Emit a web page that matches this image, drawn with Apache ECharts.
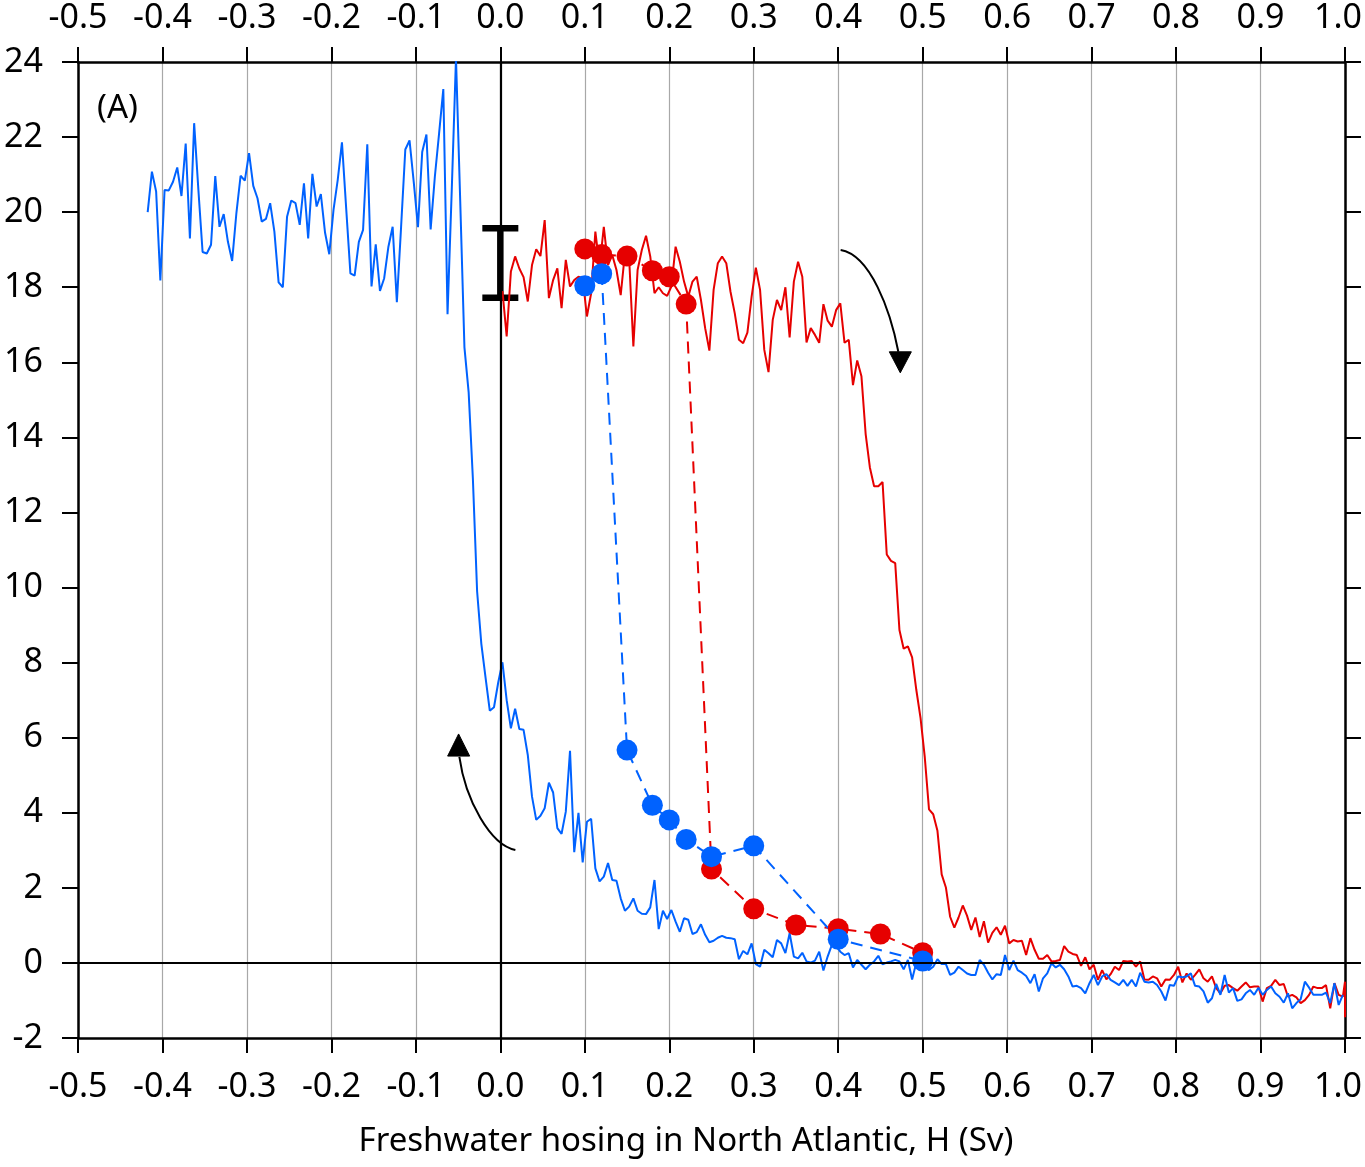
<!DOCTYPE html>
<html>
<head>
<meta charset="utf-8">
<script src="https://cdn.jsdelivr.net/npm/echarts@6/dist/echarts.min.js"></script>
<style>html,body{margin:0;padding:0;background:#fff}#c{width:1365px;height:1167px}</style>
</head>
<body>
<div id="c"></div>
<script>
// ---- data ----
const xTicks = {min: -0.5, max: 1.0, interval: 0.1};
const yTicks = {min: -2, max: 24, interval: 2};

// blue solid: hosing decreasing (from off state)
const blueLine = [
[-0.4175,20.0],[-0.4125,21.08],[-0.4075,20.55],[-0.4025,18.18],[-0.3975,20.59],[-0.3925,20.58],[-0.3875,20.81],[-0.3825,21.19],[-0.3775,20.43],[-0.3725,21.83],
[-0.3675,19.30],[-0.3625,22.37],[-0.3575,20.6],[-0.3525,18.94],[-0.3475,18.90],[-0.3425,19.13],[-0.3375,20.96],[-0.3325,19.61],[-0.3275,19.95],[-0.3225,19.21],
[-0.3175,18.70],[-0.3125,19.97],[-0.3075,20.97],[-0.3025,20.84],[-0.2975,21.57],[-0.2925,20.70],[-0.2875,20.37],[-0.2825,19.75],[-0.2775,19.82],[-0.2725,20.24],
[-0.2675,19.48],[-0.2625,18.13],[-0.2575,18.00],[-0.2525,19.88],[-0.2475,20.31],[-0.2425,20.24],[-0.2375,19.66],[-0.2325,20.77],[-0.2275,19.30],[-0.2225,21.02],
[-0.2175,20.15],[-0.2125,20.48],[-0.2075,19.45],[-0.2025,18.88],[-0.1975,20.06],[-0.1925,20.86],[-0.1875,21.86],[-0.1825,20.1],[-0.1775,18.37],[-0.1725,18.31],
[-0.1675,19.21],[-0.1625,19.53],[-0.1575,21.81],[-0.1525,18.02],[-0.1475,19.14],[-0.1425,17.90],[-0.1375,18.24],[-0.1325,19.08],[-0.1275,19.61],[-0.1225,17.60],
[-0.1175,19.6],[-0.1125,21.67],[-0.1075,21.91],[-0.1025,20.8],[-0.0975,19.60],[-0.0925,21.60],[-0.0875,22.07],[-0.0825,19.54],[-0.0775,20.95],[-0.0725,22.1],
[-0.0675,23.28],[-0.0625,17.28],[-0.0575,20.6],[-0.0525,24.10],[-0.0475,20.3],[-0.0425,16.4],[-0.0375,15.2],[-0.0325,12.9],[-0.0275,9.9],[-0.0225,8.5],
[-0.0175,7.6],[-0.0125,6.72],[-0.0075,6.81],[-0.0025,7.47],[0.0025,8.01],[0.0075,7.0],[0.0125,6.25],[0.0175,6.77],[0.0225,6.23],[0.0275,6.21],
[0.0325,5.54],[0.0375,4.43],[0.0425,3.81],[0.0475,3.92],[0.0525,4.12],[0.0575,4.80],[0.0625,4.54],[0.0675,3.59],[0.0725,3.44],[0.0775,4.03],
[0.0825,5.65],[0.0875,2.95],[0.0925,4.00],[0.0975,2.68],[0.1025,3.76],[0.1075,3.84],[0.1125,2.52],[0.1175,2.17],[0.1225,2.30],[0.1275,2.66],
[0.1325,2.21],[0.1375,2.19],[0.1425,1.72],[0.1475,1.39],[0.1525,1.50],[0.1575,1.72],[0.1625,1.39],[0.1675,1.31],[0.1725,1.30],[0.1775,1.48],
[0.1825,2.21],[0.1875,0.90],[0.1925,1.39],[0.1975,1.17],[0.2025,1.41],[0.2075,1.10],[0.2125,0.83],[0.2175,1.19],[0.2225,1.15],[0.2275,0.77],
[0.2325,0.82],[0.2375,1.03],[0.2425,0.75],[0.2475,0.55],[0.2525,0.59],[0.2575,0.67],[0.2625,0.72],[0.2675,0.67],[0.2725,0.66],[0.2775,0.63],
[0.2825,0.10],[0.2875,0.32],[0.2925,0.23],[0.2975,0.52],[0.3025,-0.03],[0.3075,-0.10],[0.3125,0.35],[0.3175,0.26],[0.3225,0.15],[0.3275,0.61],
[0.3325,0.52],[0.3375,0.26],[0.3425,0.79],[0.3475,0.17],[0.3525,0.12],[0.3575,0.27],[0.3625,0.04],[0.3675,0.01],[0.3725,0.06],[0.3775,0.30],
[0.3825,-0.20],[0.3875,0.17],[0.3925,0.48],[0.3975,0.45],[0.4025,0.30],[0.4075,0.21],[0.4125,0.26],[0.4175,-0.12],[0.4225,0.08],[0.4275,-0.05],
[0.4325,-0.17],[0.4375,-0.05],[0.4425,0.04],[0.4475,0.19],[0.4525,-0.04],[0.4575,0.01],[0.4625,0.04],[0.4675,0.08],[0.4725,0.04],[0.4775,-0.17],
[0.4825,0.08],[0.4875,-0.44],[0.4925,0.01],[0.4975,-0.17],[0.5025,-0.12],[0.5075,-0.19],[0.5125,-0.10],[0.5175,0.10],[0.5225,-0.03],[0.5275,-0.03],
[0.5325,-0.32],[0.5375,-0.26],[0.5425,-0.10],[0.5475,-0.19],[0.5525,-0.28],[0.5575,-0.32],[0.5625,-0.32],[0.5675,0.08],[0.5725,-0.05],[0.5775,-0.26],
[0.5825,-0.44],[0.5875,-0.30],[0.5925,-0.32],[0.5975,0.21],[0.6025,-0.19],[0.6075,0.06],[0.6125,-0.19],[0.6175,-0.26],[0.6225,-0.35],[0.6275,-0.54],
[0.6325,-0.30],[0.6375,-0.76],[0.6425,-0.41],[0.6475,-0.28],[0.6525,-0.01],[0.6575,-0.12],[0.6625,-0.05],[0.6675,-0.17],[0.6725,-0.36],[0.6775,-0.63],
[0.6825,-0.61],[0.6875,-0.67],[0.6925,-0.81],[0.6975,-0.54],[0.7025,-0.32],[0.7075,-0.59],[0.7125,-0.36],[0.7175,-0.30],[0.7225,-0.45],[0.7275,-0.52],
[0.7325,-0.59],[0.7375,-0.45],[0.7425,-0.61],[0.7475,-0.45],[0.7525,-0.63],[0.7575,-0.26],[0.7625,-0.50],[0.7675,-0.52],[0.7725,-0.50],[0.7775,-0.59],
[0.7825,-0.76],[0.7875,-1.00],[0.7925,-0.59],[0.7975,-0.61],[0.8025,-0.36],[0.8075,-0.38],[0.8125,-0.36],[0.8175,-0.28],[0.8225,-0.61],[0.8275,-0.63],
[0.8325,-0.76],[0.8375,-1.06],[0.8425,-0.94],[0.8475,-0.56],[0.8525,-0.85],[0.8575,-0.32],[0.8625,-0.79],[0.8675,-0.67],[0.8725,-1.01],[0.8775,-0.97],
[0.8825,-0.81],[0.8875,-0.72],[0.8925,-0.85],[0.8975,-0.66],[0.9025,-0.85],[0.9075,-0.72],[0.9125,-0.63],[0.9175,-0.81],[0.9225,-0.90],[0.9275,-1.06],
[0.9325,-0.81],[0.9375,-1.21],[0.9425,-1.07],[0.9475,-0.97],[0.9525,-0.50],[0.9575,-0.66],[0.9625,-0.85],[0.9675,-0.85],[0.9725,-0.85],[0.9775,-0.79],
[0.9825,-1.07],[0.9875,-0.54],[0.9925,-1.12],[0.9975,-0.85]
];

// red solid: hosing increasing (from on state)
const redLine = [
[0.0025,17.9],[0.0075,16.69],[0.0125,18.42],[0.0175,18.82],[0.0225,18.50],[0.0275,18.27],[0.0325,17.62],[0.0375,18.59],[0.0425,19.01],[0.0475,18.83],
[0.0525,19.79],[0.0575,17.71],[0.0625,18.19],[0.0675,18.50],[0.0725,17.44],[0.0775,18.73],[0.0825,18.02],[0.0875,18.19],[0.0925,18.28],[0.0975,18.24],
[0.1025,17.22],[0.1075,17.84],[0.1125,19.48],[0.1175,18.55],[0.1225,19.61],[0.1275,18.59],[0.1325,18.86],[0.1375,18.46],[0.1425,17.79],[0.1475,18.90],
[0.1525,18.77],[0.1575,16.42],[0.1625,18.46],[0.1675,18.99],[0.1725,19.37],[0.1775,18.82],[0.1825,17.84],[0.1875,18.00],[0.1925,17.84],[0.1975,17.77],
[0.2025,18.02],[0.2075,19.08],[0.2125,18.68],[0.2175,18.15],[0.2225,17.75],[0.2275,18.15],[0.2325,18.28],[0.2375,17.66],[0.2425,16.91],[0.2475,16.31],
[0.2525,17.93],[0.2575,18.64],[0.2625,18.82],[0.2675,18.64],[0.2725,17.88],[0.2775,17.31],[0.2825,16.60],[0.2875,16.51],[0.2925,16.79],[0.2975,17.75],
[0.3025,18.52],[0.3075,17.93],[0.3125,16.33],[0.3175,15.74],[0.3225,17.13],[0.3275,17.66],[0.3325,17.39],[0.3375,18.00],[0.3425,16.66],[0.3475,18.15],
[0.3525,18.68],[0.3575,18.28],[0.3625,16.53],[0.3675,16.91],[0.3725,16.73],[0.3775,16.52],[0.3825,17.55],[0.3875,17.11],[0.3925,16.95],[0.3975,17.39],
[0.4025,17.57],[0.4075,16.52],[0.4125,16.60],[0.4175,15.39],[0.4225,16.05],[0.4275,15.63],[0.4325,14.09],[0.4375,13.20],[0.4425,12.70],[0.4475,12.70],
[0.4525,12.81],[0.4575,10.88],[0.4625,10.71],[0.4675,10.65],[0.4725,8.87],[0.4775,8.37],[0.4825,8.43],[0.4875,8.14],[0.4925,7.27],[0.4975,6.52],
[0.5025,5.48],[0.5075,4.09],[0.5125,3.96],[0.5175,3.52],[0.5225,2.36],[0.5275,2.01],[0.5325,1.23],[0.5375,0.94],[0.5425,1.21],[0.5475,1.53],
[0.5525,1.26],[0.5575,0.88],[0.5625,1.21],[0.5675,0.69],[0.5725,1.11],[0.5775,0.54],[0.5825,0.80],[0.5875,0.95],[0.5925,0.75],[0.5975,0.99],
[0.6025,0.52],[0.6075,0.61],[0.6125,0.57],[0.6175,0.59],[0.6225,0.21],[0.6275,0.66],[0.6325,0.35],[0.6375,0.11],[0.6425,0.11],[0.6475,0.21],
[0.6525,0.04],[0.6575,0.05],[0.6625,0.08],[0.6675,0.45],[0.6725,0.30],[0.6775,0.24],[0.6825,0.21],[0.6875,-0.08],[0.6925,0.15],[0.6975,-0.17],
[0.7025,-0.05],[0.7075,-0.45],[0.7125,-0.19],[0.7175,-0.44],[0.7225,-0.30],[0.7275,-0.10],[0.7325,-0.19],[0.7375,0.05],[0.7425,0.04],[0.7475,0.05],
[0.7525,-0.10],[0.7575,0.04],[0.7625,-0.44],[0.7675,-0.45],[0.7725,-0.36],[0.7775,-0.41],[0.7825,-0.63],[0.7875,-0.44],[0.7925,-0.45],[0.7975,-0.32],
[0.8025,-0.10],[0.8075,-0.52],[0.8125,-0.28],[0.8175,-0.45],[0.8225,-0.32],[0.8275,-0.17],[0.8325,-0.41],[0.8375,-0.50],[0.8425,-0.36],[0.8475,-0.67],
[0.8525,-0.81],[0.8575,-0.61],[0.8625,-0.59],[0.8675,-0.67],[0.8725,-0.74],[0.8775,-0.63],[0.8825,-0.52],[0.8875,-0.65],[0.8925,-0.63],[0.8975,-0.63],
[0.9025,-1.03],[0.9075,-0.67],[0.9125,-0.61],[0.9175,-0.45],[0.9225,-0.59],[0.9275,-0.56],[0.9325,-0.90],[0.9375,-0.85],[0.9425,-0.92],[0.9475,-1.07],
[0.9525,-0.99],[0.9575,-0.85],[0.9625,-0.63],[0.9675,-0.67],[0.9725,-0.67],[0.9775,-0.59],[0.9825,-1.21],[0.9875,-0.54],[0.9925,-0.85],[0.9975,-0.90],
[1.0,-0.5],[1.0,-1.45]
];

// equilibrium experiments (dashed with dots)
const redDotsH = [0.10, 0.12, 0.15, 0.18, 0.20, 0.22, 0.25, 0.30, 0.35, 0.40, 0.45, 0.50];
const redDotsV = [19.02, 18.87, 18.83, 18.44, 18.28, 17.55, 2.50, 1.44, 1.01, 0.91, 0.77, 0.27];
const blueDotsH = [0.10, 0.12, 0.15, 0.18, 0.20, 0.22, 0.25, 0.30, 0.40, 0.50];
const blueDotsV = [18.04, 18.36, 5.67, 4.20, 3.81, 3.29, 2.83, 3.12, 0.63, 0.05];

// error bar at H = 0
const errBar = [[0.0, 17.72, 19.57]];

// annotation arrows (cubic curve points + head triangle), data units
const arrows = [
  {curve: [[0.4029,18.99],[0.4380,18.86],[0.4617,17.39],[0.4712,16.28]],
   head: [[0.4735,15.72],[0.4605,16.28],[0.4866,16.28]]},
  {curve: [[0.0178,3.01],[-0.0118,3.14],[-0.0414,4.34],[-0.0485,5.49]],
   head: [[-0.0494,6.10],[-0.0624,5.51],[-0.0363,5.51]]}
];

const RED = '#e60000';
const BLUE = '#0062ff';
const FONT = 'Noto Sans';
const FS = 34;

const chart = echarts.init(document.getElementById('c'), null, {renderer: 'canvas'});

function fmtX(v) {
  if (Math.abs(v - xTicks.max) < 1e-9) return '{m|' + v.toFixed(1) + '}';
  return Math.abs(v) < 1e-9 ? '0.0' : v.toFixed(1);
}

const axisLineStyle = {color: '#000', width: 2.5};
const tickStyle = {color: '#000', width: 2};
const labelStyle = {fontFamily: FONT, fontSize: FS, color: '#000'};
const richMax = {m: {fontFamily: FONT, fontSize: FS, color: '#000', padding: [0, 14, 0, 0]}};

const option = {
  animation: false,
  backgroundColor: '#fff',
  grid: {left: 78, right: 20, top: 62, bottom: 129, containLabel: false, outerBoundsMode: 'none'},
  xAxis: [
    {type: 'value', min: xTicks.min, max: xTicks.max, interval: xTicks.interval, position: 'bottom',
     axisLine: {show: true, onZero: false, lineStyle: axisLineStyle},
     axisTick: {show: true, inside: false, length: 15, lineStyle: tickStyle},
     axisLabel: Object.assign({margin: 32, formatter: fmtX, showMinLabel: true, showMaxLabel: true, rich: richMax}, labelStyle),
     splitLine: {show: true, lineStyle: {color: '#a8a8a8', width: 1.2}}},
    {type: 'value', min: xTicks.min, max: xTicks.max, interval: xTicks.interval, position: 'top',
     axisLine: {show: true, onZero: false, lineStyle: axisLineStyle},
     axisTick: {show: true, inside: false, length: 15, lineStyle: tickStyle},
     axisLabel: Object.assign({margin: 27, formatter: fmtX, showMinLabel: true, showMaxLabel: true, rich: richMax}, labelStyle),
     splitLine: {show: false}}
  ],
  yAxis: [
    {type: 'value', min: yTicks.min, max: yTicks.max, interval: yTicks.interval, position: 'left',
     axisLine: {show: true, onZero: false, lineStyle: axisLineStyle},
     axisTick: {show: true, inside: false, length: 16, lineStyle: tickStyle},
     axisLabel: Object.assign({margin: 35}, labelStyle),
     splitLine: {show: false}},
    {type: 'value', min: yTicks.min, max: yTicks.max, interval: yTicks.interval, position: 'right',
     axisLine: {show: true, onZero: false, lineStyle: axisLineStyle},
     axisTick: {show: true, inside: false, length: 16, lineStyle: tickStyle},
     axisLabel: {show: false},
     splitLine: {show: false}}
  ],
  graphic: [
    {type: 'text', x: 97, y: 92, style: {text: '(A)', fontFamily: FONT, fontSize: 33, fill: '#000'}},
    {type: 'text', x: 686, y: 1125, style: {text: 'Freshwater hosing in North Atlantic, H (Sv)', fontFamily: FONT, fontSize: 33, fill: '#000', textAlign: 'center'}}
  ],
  series: [
    {type: 'line', name: 'zero', data: [], symbol: 'none', silent: true,
     markLine: {silent: true, symbol: 'none', label: {show: false}, animation: false,
       lineStyle: {color: '#000', width: 2.2, type: 'solid'},
       data: [{xAxis: 0}, {yAxis: 0}]}},
    {type: 'line', name: 'red', data: redLine, showSymbol: false, symbol: 'none',
     lineStyle: {color: RED, width: 2}, itemStyle: {color: RED}},
    {type: 'line', name: 'blue', data: blueLine, showSymbol: false, symbol: 'none',
     lineStyle: {color: BLUE, width: 2}, itemStyle: {color: BLUE}},
    {type: 'line', name: 'redDots', data: redDotsH.map((h, i) => [h, redDotsV[i]]),
     symbol: 'circle', symbolSize: 21, showSymbol: true,
     lineStyle: {color: RED, width: 2, type: [12, 8]}, itemStyle: {color: RED}},
    {type: 'line', name: 'blueDots', data: blueDotsH.map((h, i) => [h, blueDotsV[i]]),
     symbol: 'circle', symbolSize: 21, showSymbol: true,
     lineStyle: {color: BLUE, width: 2, type: [12, 8]}, itemStyle: {color: BLUE}},
    {type: 'custom', name: 'errbar', data: errBar,
     renderItem: function (params, api) {
       const x = api.value(0), lo = api.value(1), hi = api.value(2);
       const pLo = api.coord([x, lo]), pHi = api.coord([x, hi]);
       const hw = 18;
       const st = {stroke: '#000', lineWidth: 6.5};
       return {type: 'group', children: [
         {type: 'line', shape: {x1: pLo[0], y1: pLo[1], x2: pHi[0], y2: pHi[1]}, style: st},
         {type: 'line', shape: {x1: pLo[0] - hw, y1: pLo[1], x2: pLo[0] + hw, y2: pLo[1]}, style: st},
         {type: 'line', shape: {x1: pHi[0] - hw, y1: pHi[1], x2: pHi[0] + hw, y2: pHi[1]}, style: st}
       ]};
     }},
    {type: 'custom', name: 'arrows', data: arrows.map(a => a.curve[0]),
     renderItem: function (params, api) {
       const a = arrows[params.dataIndex];
       const c = a.curve.map(p => api.coord(p));
       const h = a.head.map(p => api.coord(p));
       return {type: 'group', children: [
         {type: 'bezierCurve', shape: {x1: c[0][0], y1: c[0][1], cpx1: c[1][0], cpy1: c[1][1],
           cpx2: c[2][0], cpy2: c[2][1], x2: c[3][0], y2: c[3][1]},
          style: {stroke: '#000', lineWidth: 2, fill: null}},
         {type: 'polygon', shape: {points: h}, style: {fill: '#000', stroke: '#000', lineWidth: 1}}
       ]};
     }}
  ]
};
chart.setOption(option);
</script>
</body>
</html>
